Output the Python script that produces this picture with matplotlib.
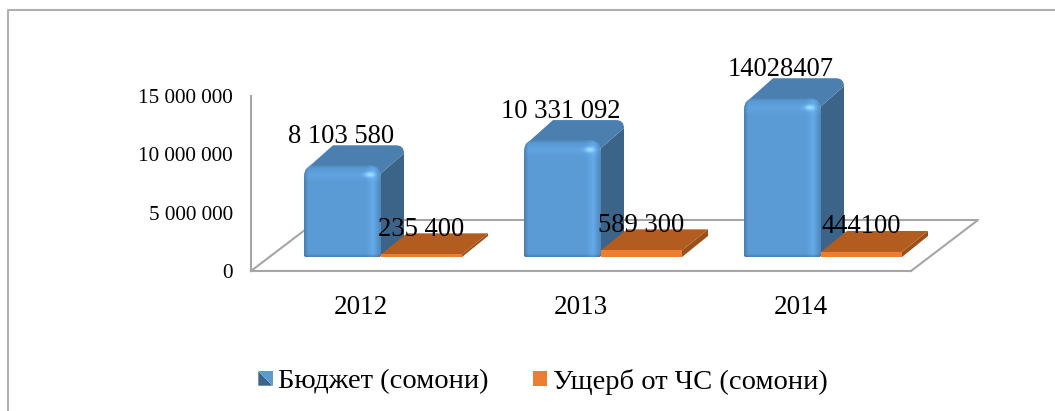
import numpy as np
import matplotlib
matplotlib.use("Agg")
import matplotlib.pyplot as plt
from matplotlib.path import Path
from matplotlib.patches import PathPatch, Polygon, Patch
from matplotlib.legend_handler import HandlerBase

# data
years = ["2012", "2013", "2014"]
budget = [8103580, 10331092, 14028407]
damage = [235400, 589300, 444100]
budget_labels = ["8 103 580", "10 331 092", "14028407"]
damage_labels = ["235 400", "589 300", "444100"]
y_ticks = [0, 5000000, 10000000, 15000000]
y_tick_labels = ["0", "5 000 000", "10 000 000", "15 000 000"]
legend_names = ["Бюджет (сомони)", "Ущерб от ЧС (сомони)"]

W, H = 1055, 411
plt.rcParams["font.family"] = ["Liberation Serif", "DejaVu Sans"]

GREY = "#a6a6a6"
BLUE_TOP = "#4a7fb0"
BLUE_SIDE = "#3c6489"
OR_FRONT = "#ed7d31"
OR_TOP = "#b35c1f"
OR_SIDE = "#9c5019"

fig = plt.figure(figsize=(W / 100, H / 100), dpi=100)

# axes box = the front edge of the 3D floor and the wall
ax = fig.add_axes([251 / W, 1 - 271 / H, (911 - 251) / W, (271 - 96) / H])
ax.set_xlim(-0.5, 2.5)
ax.set_ylim(0, 15000000)
ax.patch.set_alpha(0)

px = 3 / 660            # one pixel in category units
py = 15000000 / 175     # one pixel in value units

# fake 3D settings
base = 14 * py          # bars stand this far in from the floor edge
scale = 0.97            # front plane is slightly smaller than the wall
dx = 23 * px
dy = 20 * py
or_dx = 26 * px
or_dy = 21 * py
blue_l, blue_r = -57 * px, 20 * px
or_l, or_r = 20 * px, 101 * px

for s in ["top", "right"]:
    ax.spines[s].set_visible(False)
for s in ["left", "bottom"]:
    ax.spines[s].set_color(GREY)
    ax.spines[s].set_linewidth(1.5)

ax.set_yticks(y_ticks, y_tick_labels, fontsize=15.2)
ax.set_xticks(range(3), years, fontsize=19.5)
ax.tick_params(axis="y", length=0, pad=13)
ax.tick_params(axis="x", length=0, pad=17.5)

# floor
right_edge = 2.5
fl_x = 67 * px
fl_y = 51 * py
ax.plot([-0.5, -0.5 + fl_x], [0, fl_y], color=GREY, lw=1.5, clip_on=False, zorder=1)
ax.plot([-0.5 + fl_x, right_edge + fl_x, right_edge], [fl_y, fl_y, 0],
        color=GREY, lw=1.5, clip_on=False, zorder=1)


def rounded_rect(x0, x1, y0, y1, r_top, r_bot):
    xt, yt = r_top * px, r_top * py
    xb, yb = r_bot * px, r_bot * py
    verts = [(x0 + xb, y0), (x1 - xb, y0), (x1, y0), (x1, y0 + yb),
             (x1, y1 - yt), (x1, y1), (x1 - xt, y1),
             (x0 + xt, y1), (x0, y1), (x0, y1 - yt),
             (x0, y0 + yb), (x0, y0), (x0 + xb, y0), (x0 + xb, y0)]
    codes = [Path.MOVETO, Path.LINETO, Path.CURVE3, Path.CURVE3,
             Path.LINETO, Path.CURVE3, Path.CURVE3,
             Path.LINETO, Path.CURVE3, Path.CURVE3,
             Path.LINETO, Path.CURVE3, Path.CURVE3, Path.CLOSEPOLY]
    return Path(verts, codes)


def front_shade(height_px):
    # shading of the bevelled front face, in pixels of the bar
    nx, ny = 78, int(height_px)
    u = np.arange(nx)
    v = np.arange(ny)
    fx = np.ones(nx)
    fx[:5] = np.linspace(0.82, 1.0, 5)
    fx[62:70] = np.linspace(1.0, 1.09, 8)
    fx[70:] = np.linspace(1.09, 0.88, nx - 70)
    fy = np.ones(ny)
    fy[:4] = np.linspace(0.88, 1.0, 4)
    fy[4:10] = np.linspace(1.0, 1.05, 6)
    fy[10:18] = np.linspace(1.05, 1.0, 8)
    fy[-4:] = np.linspace(1.0, 0.85, 4)
    m = np.outer(fy, fx)
    rgb = np.array([0x5b, 0x9b, 0xd5]) / 255
    img = np.clip(m[..., None] * rgb, 0, 1)
    # small highlight near the top right corner
    hx, hy = 66, 9
    glow = np.exp(-(((u[None, :] - hx) / 5.0) ** 2 + ((v[:, None] - hy) / 2.5) ** 2))
    img = img + glow[..., None] * 0.22
    return np.clip(img, 0, 1)


for i in range(3):
    # blue bar
    x0, x1 = i + blue_l, i + blue_r
    y0 = base
    y1 = base + scale * budget[i]
    ax.add_patch(Polygon([(x1 - 2 * px, y0), (x1 + dx, y0 + dy), (x1 + dx, y1 + dy - 8 * py),
                          (x1, y1 - 8 * py)], closed=True, fc=BLUE_SIDE, ec="none", clip_on=False, zorder=2))
    top = Path([(x0 + 2 * px, y1 - 4 * py), (x0 + dx + 6 * px, y1 + dy), (x1 + dx - 8 * px, y1 + dy),
                (x1 + dx, y1 + dy), (x1 + dx, y1 + dy - 8 * py), (x1, y1 - 8 * py),
                (x0 + 2 * px, y1 - 4 * py)],
               [Path.MOVETO, Path.LINETO, Path.LINETO, Path.CURVE3, Path.CURVE3, Path.LINETO, Path.CLOSEPOLY])
    ax.add_patch(PathPatch(top, fc=BLUE_TOP, ec="none", clip_on=False, zorder=2))

    outline = PathPatch(rounded_rect(x0, x1, y0, y1, 11, 2), fc="none", ec="none",
                        transform=ax.transData, clip_on=False)
    ax.add_patch(outline)
    im = ax.imshow(front_shade((y1 - y0) / py), extent=(x0, x1, y0, y1), aspect="auto",
                   origin="upper", interpolation="bilinear", zorder=3)
    im.set_clip_path(outline)

    # orange bar
    x0, x1 = i + or_l, i + or_r
    y1 = base + scale * damage[i]
    ax.add_patch(Polygon([(x1, y0), (x1 + or_dx, y0 + or_dy), (x1 + or_dx, y1 + or_dy), (x1, y1)],
                         closed=True, fc=OR_SIDE, ec="none", clip_on=False, zorder=4))
    ax.add_patch(Polygon([(x0, y1), (x0 + or_dx, y1 + or_dy), (x1 + or_dx, y1 + or_dy), (x1, y1)],
                         closed=True, fc=OR_TOP, ec="none", clip_on=False, zorder=4))
    ax.add_patch(Polygon([(x0, y0), (x1, y0), (x1, y1), (x0, y1)],
                         closed=True, fc=OR_FRONT, ec="none", clip_on=False, zorder=4))

    # data labels
    ax.text(i - 20 * px, base + scale * budget[i] + dy + 9 * py, budget_labels[i], fontsize=19.2,
            ha="center", va="center", color="black", clip_on=False, zorder=6)
    ax.text(i + 60 * px, base + scale * damage[i] + dy + 5 * py, damage_labels[i], fontsize=19.2,
            ha="center", va="center", color="black", clip_on=False, zorder=6)

ax.set_xlim(-0.5, 2.5)
ax.set_ylim(0, 15000000)

KEY = 10.3


class BlueKey(HandlerBase):
    def create_artists(self, legend, handle, xd, yd, w, h, fs, trans):
        x = xd * -1 + w - KEY
        y = yd * -1 + (h - KEY) / 2
        a = Polygon([(x, y), (x + KEY, y), (x, y + KEY)], fc=BLUE_SIDE, ec="none", transform=trans)
        b = Polygon([(x + KEY, y), (x + KEY, y + KEY), (x, y + KEY)], fc="#5b9bd5", ec="none", transform=trans)
        return [a, b]


class OrangeKey(HandlerBase):
    def create_artists(self, legend, handle, xd, yd, w, h, fs, trans):
        x = xd * -1 + w - KEY
        y = yd * -1 + (h - KEY) / 2
        return [Polygon([(x, y), (x + KEY, y), (x + KEY, y + KEY), (x, y + KEY)],
                        fc=OR_FRONT, ec="none", transform=trans)]


h1, h2 = Patch(label=legend_names[0]), Patch(label=legend_names[1])
fig.legend(handles=[h1, h2], handler_map={h1: BlueKey(), h2: OrangeKey()},
           loc="center", bbox_to_anchor=(543 / W, 1 - 381.5 / H), ncol=2, frameon=False,
           fontsize=20.5, handlelength=0.5, handletextpad=0.2, columnspacing=1.55)

# chart frame, cut by the picture edge
fig.add_artist(plt.Line2D([7.5 / W, 7.5 / W, 1], [0, 1 - 10 / H, 1 - 10 / H],
                          color="#b0b0b0", lw=1.5))

fig.savefig("out.png", dpi=100)
